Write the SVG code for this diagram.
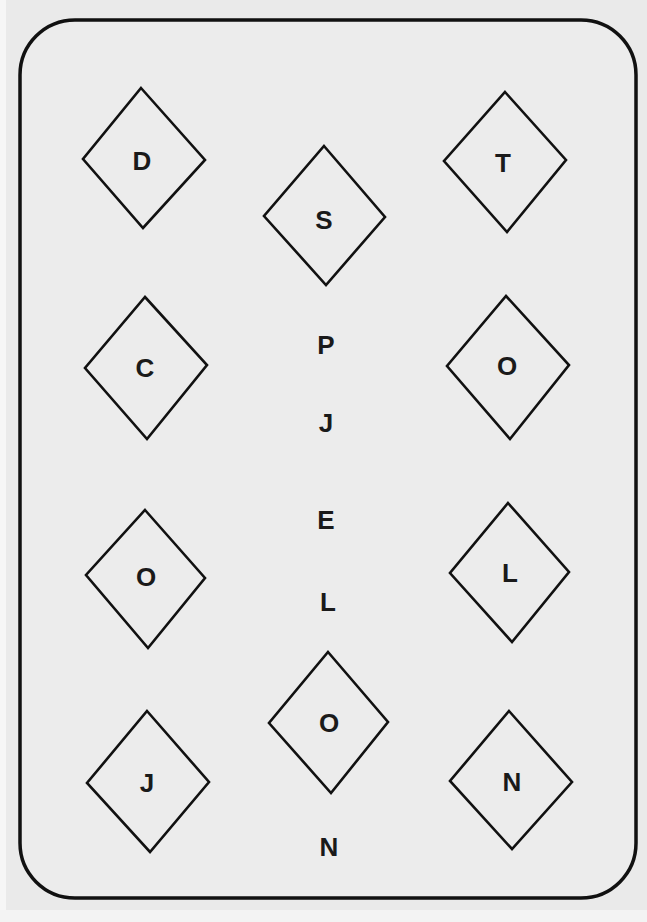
<svg xmlns="http://www.w3.org/2000/svg" width="647" height="922" viewBox="0 0 647 922">
<style>
.d{fill:none;stroke:#111;stroke-width:2.6;stroke-linejoin:miter}
.t{font-family:"Liberation Sans",Arial,sans-serif;font-weight:bold;font-size:26px;fill:#1a1a1a;text-anchor:middle}
</style>
<rect x="0" y="0" width="647" height="922" fill="#eaeaea"/>
<rect x="0" y="0" width="6" height="922" fill="#f6f6f6"/>
<rect x="0" y="910" width="647" height="12" fill="#f3f3f3"/>
<g id="card">
<rect x="20" y="20" width="616" height="878" rx="55" ry="55" fill="#ececec" stroke="#111" stroke-width="3.5"/>
</g>
<g id="connectors"></g>
<g id="n-D"><polygon class="d" points="141,88 205,160 143,228 83,159"/><text class="t" x="142" y="170">D</text></g>
<g id="n-S"><polygon class="d" points="324,146 385,217 326,285 264,216"/><text class="t" x="324" y="229">S</text></g>
<g id="n-T"><polygon class="d" points="505,92 566,160 507,232 444,161"/><text class="t" x="503" y="172">T</text></g>
<g id="n-C"><polygon class="d" points="145,297 207,365 147,439 85,368"/><text class="t" x="145" y="377">C</text></g>
<g id="n-O1"><polygon class="d" points="506,296 569,365 510,439 447,366"/><text class="t" x="507" y="375">O</text></g>
<g id="n-O2"><polygon class="d" points="145,510 205,578 148,648 86,575"/><text class="t" x="146" y="586">O</text></g>
<g id="n-L1"><polygon class="d" points="508,503 569,572 512,642 450,573"/><text class="t" x="510" y="582">L</text></g>
<g id="n-O3"><polygon class="d" points="328,652 388,722 331,793 269,723"/><text class="t" x="329" y="732">O</text></g>
<g id="n-J1"><polygon class="d" points="147,711 209,782 150,852 87,783"/><text class="t" x="147" y="792">J</text></g>
<g id="n-N1"><polygon class="d" points="509,711 572,782 512,849 450,781"/><text class="t" x="512" y="791">N</text></g>
<g id="n-mid">
<text class="t" x="326" y="354">P</text>
<text class="t" x="326" y="432">J</text>
<text class="t" x="326" y="529">E</text>
<text class="t" x="328" y="611">L</text>
<text class="t" x="329" y="856">N</text>
</g>
</svg>
